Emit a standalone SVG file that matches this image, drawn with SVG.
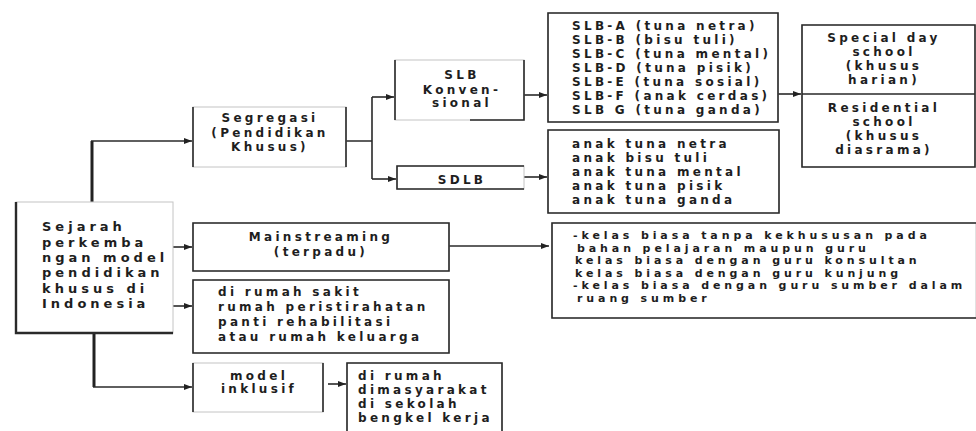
<svg xmlns="http://www.w3.org/2000/svg" width="976" height="431" viewBox="0 0 976 431">
<style>
.box{fill:#fff;stroke:#c4c4c4;stroke-width:1}
.edge{fill:none;stroke:#2a2a2a;stroke-width:1.6}
.t{font-family:"DejaVu Sans","Liberation Sans",sans-serif;font-weight:bold;font-size:12px;letter-spacing:3.3px;fill:#1e1e1e}
.s{font-size:11px;letter-spacing:3.9px}
.c{text-anchor:middle}
.ln{fill:none;stroke:#2a2a2a;stroke-width:1.6}
.trunk{fill:none;stroke:#222;stroke-width:3}
</style>
<defs>
<marker id="ah" markerUnits="userSpaceOnUse" markerWidth="9" markerHeight="7" refX="8" refY="3.5" orient="auto">
<path d="M0,0.5 L8,3.5 L0,6.5 Z" fill="#222"/>
</marker>
</defs>
<rect width="976" height="431" fill="#fff"/>

<g id="connectors">
<path class="trunk" d="M92,202 V141"/>
<path class="ln" d="M91,141 H192" marker-end="url(#ah)"/>
<path class="trunk" d="M94,333 V387"/>
<path class="ln" d="M93,387 H192" marker-end="url(#ah)"/>
<path class="ln" d="M346,141 H372 M372,97 V179"/>
<path class="ln" d="M372,97 H394" marker-end="url(#ah)"/>
<path class="ln" d="M372,179 H396" marker-end="url(#ah)"/>
<path class="ln" d="M524,95 H547" marker-end="url(#ah)"/>
<path class="ln" d="M524,177 H547" marker-end="url(#ah)"/>
<path class="ln" d="M778,94 H801" marker-end="url(#ah)"/>
<path class="ln" d="M173,247 H192" marker-end="url(#ah)"/>
<path class="ln" d="M173,306 H192" marker-end="url(#ah)"/>
<path class="ln" d="M449,246 H549" marker-end="url(#ah)"/>
<path class="ln" d="M328,384 H346" marker-end="url(#ah)"/>
</g>

<g id="node-sejarah">
<rect class="box" x="16" y="202" width="157" height="131"/>
<path class="edge" d="M16,202 V333 H173" style="stroke-width:2.4"/>
<text class="t" style="font-size:13px;letter-spacing:4px"><tspan x="42" y="231">Sejarah</tspan><tspan x="42" y="246.5">perkemba</tspan><tspan x="42" y="262">ngan model</tspan><tspan x="42" y="277">pendidikan</tspan><tspan x="42" y="292.5">khusus di</tspan><tspan x="42" y="308">Indonesia</tspan></text>
</g>

<g id="node-segregasi">
<rect class="box" x="193" y="107" width="153" height="60"/>
<path class="edge" d="M193,107 V167 M346,107 V167"/>
<text class="t c"><tspan x="270" y="122">Segregasi</tspan><tspan x="270" y="136.5">(Pendidikan</tspan><tspan x="270" y="151">Khusus)</tspan></text>
</g>

<g id="node-slb-konvensional">
<rect class="box" x="395" y="60" width="129" height="60"/>
<path class="edge" d="M395,60 V120 M524,60 V120 H470"/>
<text class="t c"><tspan x="462" y="79">SLB</tspan><tspan x="462" y="93.5">Konven-</tspan><tspan x="462" y="107">sional</tspan></text>
</g>

<g id="node-sdlb">
<rect class="box" x="397" y="166" width="127" height="23"/>
<path class="edge" d="M524,166 H397 V189 H524"/>
<text class="t c" x="462" y="184">SDLB</text>
</g>

<g id="node-slb-list">
<rect class="box" x="548" y="13" width="230" height="109"/>
<path class="edge" d="M548,13 H778 V122 H548 Z"/>
<text class="t"><tspan x="572" y="29.5">SLB-A (tuna netra)</tspan><tspan x="572" y="43.5">SLB-B (bisu tuli)</tspan><tspan x="572" y="57.5">SLB-C (tuna mental)</tspan><tspan x="572" y="71.5">SLB-D (tuna pisik)</tspan><tspan x="572" y="85.5">SLB-E (tuna sosial)</tspan><tspan x="572" y="99.5">SLB-F (anak cerdas)</tspan><tspan x="572" y="113.5">SLB G (tuna ganda)</tspan></text>
</g>

<g id="node-anak">
<rect class="box" x="548" y="130" width="231" height="83"/>
<path class="edge" d="M548,130 H779 V213 H548 Z"/>
<text class="t"><tspan x="572" y="148">anak tuna netra</tspan><tspan x="572" y="162">anak bisu tuli</tspan><tspan x="572" y="176">anak tuna mental</tspan><tspan x="572" y="190">anak tuna pisik</tspan><tspan x="572" y="204">anak tuna ganda</tspan></text>
</g>

<g id="node-school">
<rect class="box" x="802" y="25" width="173" height="142"/>
<path class="edge" d="M802,25 H975 V167 H802 Z M802,94 H975"/>
<text class="t c"><tspan x="884" y="42">Special day</tspan><tspan x="884" y="56">school</tspan><tspan x="884" y="69.5">(khusus</tspan><tspan x="884" y="83.5">harian)</tspan><tspan x="884" y="112">Residential</tspan><tspan x="884" y="125.5">school</tspan><tspan x="884" y="139.5">(khusus</tspan><tspan x="884" y="153.5">diasrama)</tspan></text>
</g>

<g id="node-mainstreaming">
<rect class="box" x="193" y="223" width="256" height="48"/>
<path class="edge" d="M193,223 H449 V271 H193 Z"/>
<text class="t c"><tspan x="321" y="241">Mainstreaming</tspan><tspan x="321" y="256">(terpadu)</tspan></text>
</g>

<g id="node-kelas">
<rect class="box" x="552" y="223" width="424" height="95"/>
<path class="edge" d="M976,223 H552 V318 H976"/>
<text class="t s"><tspan x="573" y="239">-kelas biasa tanpa kekhususan pada</tspan><tspan x="577" y="251.5">bahan pelajaran maupun guru</tspan><tspan x="575" y="264">kelas biasa dengan guru konsultan</tspan><tspan x="575" y="276.5">kelas biasa dengan guru kunjung</tspan><tspan x="573" y="289">-kelas biasa dengan guru sumber dalam</tspan><tspan x="577" y="301.5">ruang sumber</tspan></text>
</g>

<g id="node-rumah-sakit">
<rect class="box" x="193" y="280" width="256" height="73"/>
<path class="edge" d="M193,280 H449 V353 H193 Z"/>
<text class="t"><tspan x="218" y="296">di rumah sakit</tspan><tspan x="218" y="311">rumah peristirahatan</tspan><tspan x="218" y="326">panti rehabilitasi</tspan><tspan x="218" y="341">atau rumah keluarga</tspan></text>
</g>

<g id="node-inklusif">
<rect class="box" x="193" y="363" width="130" height="49"/>
<path class="edge" d="M193,363 V412 M323,363 V412"/>
<text class="t c"><tspan x="259" y="379.5">model</tspan><tspan x="259" y="393">inklusif</tspan></text>
</g>

<g id="node-di-rumah">
<rect class="box" x="347" y="363" width="155" height="70"/>
<path class="edge" d="M347,431 V363 H502 V431"/>
<text class="t"><tspan x="358" y="379.5">di rumah</tspan><tspan x="358" y="394">dimasyarakat</tspan><tspan x="358" y="407.5">di sekolah</tspan><tspan x="358" y="421.5">bengkel kerja</tspan></text>
</g>
</svg>
